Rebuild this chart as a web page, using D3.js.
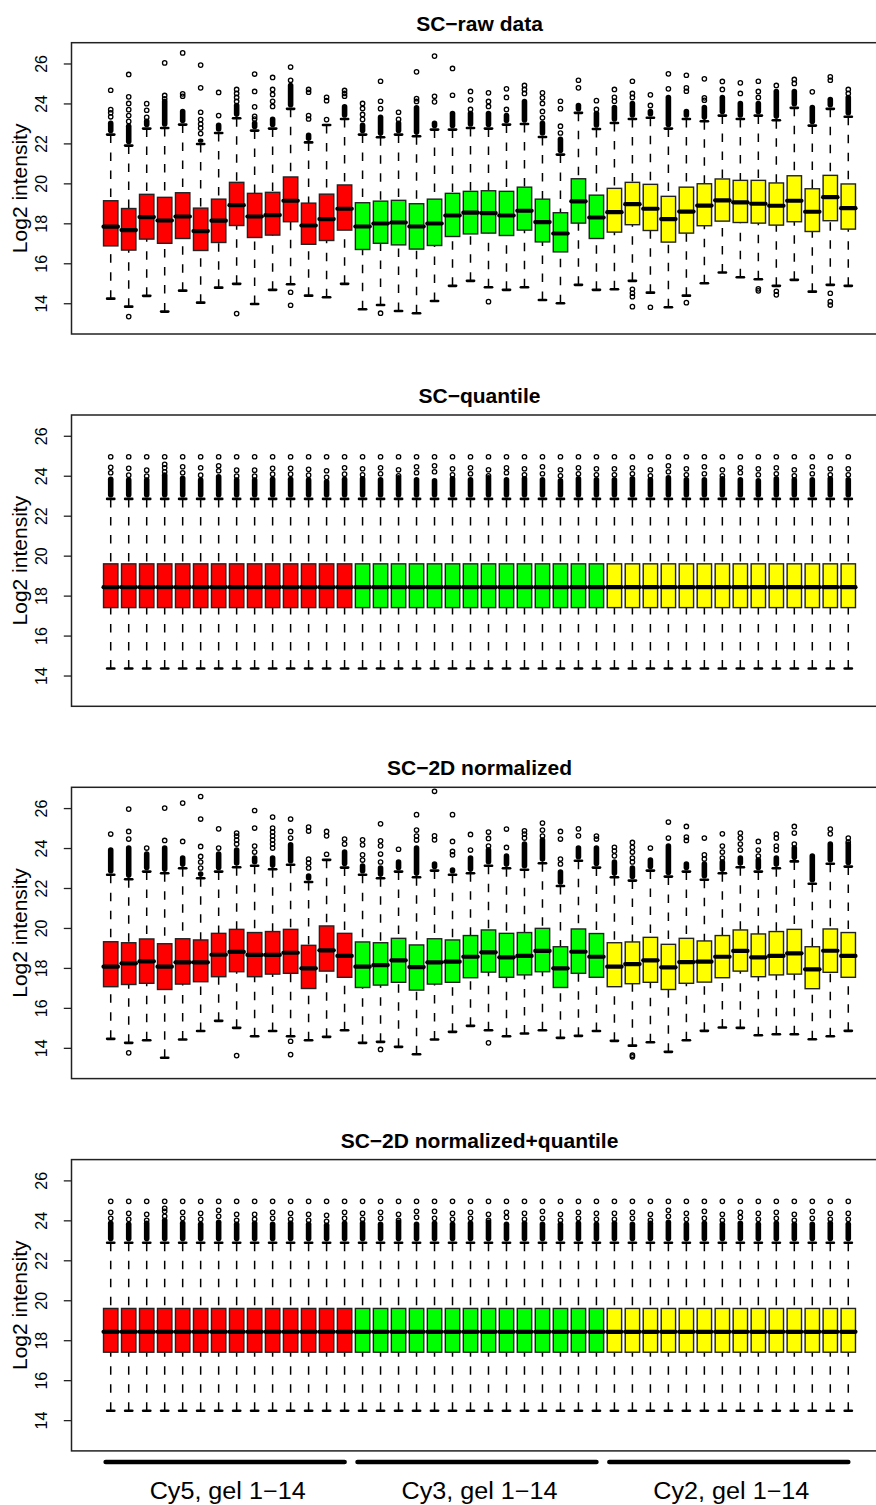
<!DOCTYPE html>
<html><head><meta charset="utf-8">
<script src="https://cdn.jsdelivr.net/npm/d3@7"></script>
<style>body{margin:0;background:#fff}svg{display:block}</style>
</head><body>
<script>
// ---------------- data ----------------
const panelTitles = ["SC\u2212raw data", "SC\u2212quantile", "SC\u22122D normalized", "SC\u22122D normalized+quantile"];
const groupLabels = ["Cy5, gel 1\u221214", "Cy3, gel 1\u221214", "Cy2, gel 1\u221214"];
const groupColors = ["#FF0000", "#00FF00", "#FFFF00"];
const yTicks = [14, 16, 18, 20, 22, 24, 26];
const yLabel = "Log2 intensity";

// Panel 1: SC-raw data
const rawLow  = [14.23,13.83,14.37,13.58,14.63,14.03,14.78,14.97,13.96,14.67,14.95,14.38,14.30,14.97, 13.70,13.91,13.61,13.50,14.11,14.87,15.12,14.80,14.67,14.80,14.16,14.00,14.92,14.67, 14.70,15.12,14.53,13.80,14.38,15.00,15.54,15.30,15.20,14.87,15.17,14.58,14.92,14.87];
const rawQ1   = [16.87,16.66,17.21,17.00,17.24,16.64,17.04,17.89,17.29,17.41,18.08,16.95,17.14,17.66, 16.69,17.00,16.92,16.71,16.89,17.34,17.47,17.51,17.39,17.66,17.07,16.57,18.01,17.24, 17.56,17.93,17.64,17.06,17.51,17.88,18.11,18.04,18.01,17.91,18.08,17.59,18.13,17.71];
const rawMed  = [17.83,17.66,18.31,18.14,18.34,17.61,18.13,18.91,18.34,18.41,19.13,17.89,18.21,18.73, 17.84,17.99,18.04,17.84,17.99,18.39,18.53,18.51,18.39,18.63,18.06,17.49,19.10,18.29, 18.56,18.96,18.73,18.21,18.59,18.89,19.15,19.05,18.98,18.88,19.13,18.58,19.31,18.76];
const rawQ3   = [19.13,18.74,19.45,19.30,19.53,18.76,19.21,20.05,19.50,19.55,20.32,19.01,19.46,19.92, 19.03,19.11,19.15,18.98,19.21,19.50,19.60,19.63,19.60,19.81,19.21,18.53,20.23,19.41, 19.75,20.05,19.95,19.35,19.81,19.98,20.22,20.15,20.15,20.02,20.38,19.73,20.40,19.97];
const rawHigh = [22.44,21.89,22.74,22.77,22.94,21.97,22.52,23.26,22.64,22.74,23.73,22.05,22.92,23.22, 22.44,22.31,22.44,22.36,22.69,22.69,22.77,22.74,22.94,22.97,22.32,21.44,23.53,22.72, 23.02,23.22,23.28,22.74,23.22,23.11,23.39,23.22,23.39,23.16,23.78,22.89,23.73,23.33];
const rawDense= [23.00,22.86,23.10,24.10,23.60,22.10,22.90,23.90,23.00,23.20,24.90,22.40,22.92,23.83, 22.90,23.30,23.00,23.78,23.00,23.50,23.50,23.50,23.40,24.10,23.00,22.20,23.90,23.50, 23.80,24.00,23.60,24.30,23.60,23.80,24.30,24.00,24.00,24.60,24.60,23.80,24.20,24.30];
const rawOutHi = [
  [23.33,23.53,23.69,24.66],[23.10,23.39,23.69,24.00,24.33,25.45],[23.30,23.66,23.99],[24.23,24.40,26.03],[24.36,24.48,26.53],
  [22.49,22.77,22.97,23.19,23.56,24.78,25.92],[23.39,24.55],[24.10,24.30,24.50,24.70],[23.22,23.35,23.83,24.60,25.47],[23.85,24.11,24.45,24.70,25.30],
  [25.16,25.82],[23.22,23.39,24.56,24.70],[23.19,24.14,24.31],[24.36,24.50,24.65],
  [23.20,23.45,23.75,24.00],[23.74,24.11,25.11],[23.20,23.56],[24.10,24.24,25.58],[24.08,24.36,26.37],
  [24.41,25.75],[23.70,24.18,24.60],[23.85,24.10,24.53],[23.70,24.30,24.73],[24.50,24.70,24.90],
  [23.28,23.60,24.00,24.28,24.53],[22.52,22.86,23.74,24.11],[24.78,25.16],[23.70,24.14],
  [24.11,24.31,24.70],[24.30,24.50,25.11],[23.90,24.43],[24.73,25.48],[24.61,24.78,25.41],
  [24.16,24.28,25.23],[24.70,25.10],[24.50,25.03],[24.30,24.60,25.11],[24.90],
  [25.00,25.20],[24.58],[25.16,25.33],[24.50,24.70]
];
const rawOutLo = [
  [],[13.33],[],[],[],[],[],[13.48],[],[],[14.55,13.90],[],[],[],
  [],[13.50],[],[],[],[],[],[14.08],[],[],[],[],[],[],
  [],[14.70,14.50,14.33,13.83],[13.80],[],[14.03],[],[],[],[14.72,14.62],[14.60,14.42],[],[],[14.50,14.08,13.91],[]
];

// Panel 2: SC-quantile
const quLow  = [14.35,14.35,14.35,14.35,14.35,14.35,14.35,14.35,14.35,14.35,14.35,14.35,14.35,14.35, 14.35,14.35,14.35,14.35,14.35,14.35,14.35,14.35,14.35,14.35,14.35,14.35,14.35,14.35, 14.35,14.35,14.35,14.35,14.35,14.35,14.35,14.35,14.35,14.35,14.35,14.35,14.35,14.35];
const quQ1   = [17.40,17.40,17.40,17.40,17.40,17.40,17.40,17.40,17.40,17.40,17.40,17.40,17.40,17.40, 17.40,17.40,17.40,17.40,17.40,17.40,17.40,17.40,17.40,17.40,17.40,17.40,17.40,17.40, 17.40,17.40,17.40,17.40,17.40,17.40,17.40,17.40,17.40,17.40,17.40,17.40,17.40,17.40];
const quMed  = [18.42,18.42,18.42,18.42,18.42,18.42,18.42,18.42,18.42,18.42,18.42,18.42,18.42,18.42, 18.42,18.42,18.42,18.42,18.42,18.42,18.42,18.42,18.42,18.42,18.42,18.42,18.42,18.42, 18.42,18.42,18.42,18.42,18.42,18.42,18.42,18.42,18.42,18.42,18.42,18.42,18.42,18.42];
const quQ3   = [19.59,19.59,19.59,19.59,19.59,19.59,19.59,19.59,19.59,19.59,19.59,19.59,19.59,19.59, 19.59,19.59,19.59,19.59,19.59,19.59,19.59,19.59,19.59,19.59,19.59,19.59,19.59,19.59, 19.59,19.59,19.59,19.59,19.59,19.59,19.59,19.59,19.59,19.59,19.59,19.59,19.59,19.59];
const quHigh = [22.84,22.84,22.84,22.84,22.84,22.84,22.84,22.84,22.84,22.84,22.84,22.84,22.84,22.84, 22.84,22.84,22.84,22.84,22.84,22.84,22.84,22.84,22.84,22.84,22.84,22.84,22.84,22.84, 22.84,22.84,22.84,22.84,22.84,22.84,22.84,22.84,22.84,22.84,22.84,22.84,22.84,22.84];
const quDense= [23.82,23.79,23.79,24.03,23.87,23.79,23.95,23.79,23.79,23.82,23.82,23.79,23.70,23.82, 23.85,23.80,23.90,23.80,23.75,23.85,23.80,23.90,23.80,23.85,23.80,23.75,23.85,23.80, 23.80,23.85,23.80,23.90,23.80,23.80,23.85,23.80,23.75,23.85,23.80,23.80,23.85,23.80];
const quOutHi = [
  [24.15,24.42,24.95],[24.03,24.37,24.95],[23.98,24.28,24.95],[24.20,24.40,24.57,24.95],[24.15,24.45,24.95],
  [24.03,24.40,24.95],[24.25,24.50,24.95],[23.98,24.28,24.95],[23.98,24.28,24.95],[24.08,24.37,24.95],
  [24.08,24.37,24.95],[24.03,24.32,24.95],[23.92,24.25,24.95],[24.08,24.40,24.95],
  [24.05,24.35,24.95],[24.10,24.40,24.95],[24.00,24.30,24.95],[24.15,24.45,24.95],[24.20,24.50,24.95],
  [24.05,24.35,24.95],[24.10,24.40,24.95],[24.00,24.30,24.95],[24.15,24.40,24.95],[24.05,24.35,24.95],
  [24.10,24.45,24.95],[24.00,24.30,24.95],[24.10,24.40,24.95],[24.05,24.35,24.95],
  [24.05,24.35,24.95],[24.10,24.40,24.95],[24.00,24.30,24.95],[24.20,24.50,24.95],[24.05,24.35,24.95],
  [24.10,24.45,24.95],[24.00,24.30,24.95],[24.15,24.40,24.95],[24.05,24.35,24.95],[24.10,24.40,24.95],
  [24.00,24.30,24.95],[24.10,24.45,24.95],[24.05,24.35,24.95],[24.05,24.35,24.95]
];
const quOutLo = [[],[],[],[],[],[],[],[],[],[],[],[],[],[], [],[],[],[],[],[],[],[],[],[],[],[],[],[], [],[],[],[],[],[],[],[],[],[],[],[],[],[]];

// Panel 3: SC-2D normalized
const n2Low  = [14.45,14.25,14.38,13.50,14.42,14.84,15.35,15.00,14.58,14.84,14.58,14.38,14.55,14.88, 14.25,14.30,14.05,13.68,14.42,14.80,15.10,14.88,14.58,14.72,14.88,14.50,14.60,14.84, 14.35,14.11,14.28,13.80,14.38,14.85,15.02,15.00,14.63,14.68,14.68,14.43,14.58,14.85];
const n2Q1   = [17.06,17.17,17.23,16.92,17.19,17.31,17.56,17.81,17.56,17.69,17.73,16.97,17.84,17.53, 17.02,17.14,17.28,16.89,17.19,17.28,17.51,17.79,17.53,17.65,17.81,17.02,17.73,17.53, 17.06,17.21,17.28,16.92,17.23,17.29,17.51,17.84,17.56,17.65,17.69,16.96,17.78,17.53];
const n2Med  = [18.06,18.23,18.33,18.06,18.28,18.28,18.66,18.80,18.65,18.65,18.76,17.98,18.88,18.60, 18.06,18.14,18.38,18.04,18.28,18.31,18.56,18.78,18.53,18.60,18.85,17.98,18.81,18.56, 18.06,18.19,18.38,18.03,18.29,18.31,18.56,18.85,18.53,18.60,18.73,17.93,18.86,18.60];
const n2Q3   = [19.31,19.26,19.45,19.21,19.46,19.40,19.73,19.93,19.77,19.82,19.93,19.13,20.10,19.73, 19.30,19.26,19.48,19.15,19.46,19.40,19.62,19.90,19.73,19.77,19.98,19.06,19.95,19.72, 19.26,19.30,19.53,19.18,19.48,19.35,19.62,19.90,19.70,19.82,19.93,19.06,19.95,19.77];
const n2High = [22.66,22.44,22.82,22.74,22.99,22.49,22.82,23.04,23.11,22.94,23.16,22.30,23.41,23.02, 22.66,22.49,22.82,22.54,22.87,22.66,22.74,23.11,22.99,22.91,23.24,22.10,23.36,23.02, 22.54,22.37,22.87,22.57,22.82,22.41,22.74,23.04,22.82,22.99,23.33,22.21,23.21,23.07];
const n2Dense= [23.90,24.00,23.70,24.00,23.50,22.70,23.70,23.90,23.50,23.50,24.16,22.60,23.41,23.80, 23.10,23.00,23.30,24.00,23.20,22.90,23.50,23.90,23.60,24.20,24.40,22.80,24.00,24.00, 23.30,23.00,23.40,24.10,23.20,23.20,23.30,23.50,23.40,23.50,24.00,23.60,24.20,24.20];
const n2OutHi = [
  [24.70],[24.45,24.83,25.95],[24.00],[24.38,26.00],[24.33,26.25],
  [23.00,23.30,23.58,24.08,25.45,26.58],[24.00,24.96],[24.20,24.40,24.60,24.75],[23.80,24.10,25.00,25.88],[24.00,24.20,24.40,24.60,24.80,25.00,25.55],
  [24.50,24.83,25.45],[23.00,23.25,23.45,24.85,25.05],[23.69,24.61,24.83],[24.20,24.45],
  [23.40,23.66,24.16,24.41],[23.30,23.70,24.11,24.36,25.21],[23.94],[24.40,24.60,24.90,25.67],[24.41,24.61,26.84],
  [23.66,23.83,24.33,25.67],[23.90,24.68],[24.10,24.48,24.80],[24.03,24.95],[24.50,24.70,24.86],
  [24.60,24.90,25.25],[23.20,23.45,24.45,24.83],[24.61,24.96],[24.45,24.60],
  [23.61,23.85,24.04],[23.30,23.50,23.80,24.04,24.28],[24.00],[24.50,25.30],[24.38,24.55,25.08],
  [23.45,23.66,24.50],[23.50,23.80,24.10,24.71],[23.90,24.20,24.50,24.75],[23.60,23.90,24.33],[23.90,24.10,24.50,24.70],
  [24.20,24.75,25.08],[],[24.71,24.95],[24.30,24.50]
];
const n2OutLo = [
  [],[13.75],[],[],[],[],[],[13.61],[],[],[14.33,13.66],[],[],[],
  [],[13.92],[],[],[],[],[],[14.25],[],[],[],[],[],[],
  [],[13.63,13.55],[],[],[],[],[],[],[],[],[],[],[],[]
];

// Panel 4: SC-2D normalized+quantile
const nqLow  = [14.47,14.47,14.47,14.47,14.47,14.47,14.47,14.47,14.47,14.47,14.47,14.47,14.47,14.47, 14.47,14.47,14.47,14.47,14.47,14.47,14.47,14.47,14.47,14.47,14.47,14.47,14.47,14.47, 14.47,14.47,14.47,14.47,14.47,14.47,14.47,14.47,14.47,14.47,14.47,14.47,14.47,14.47];
const nqQ1   = [17.40,17.40,17.40,17.40,17.40,17.40,17.40,17.40,17.40,17.40,17.40,17.40,17.40,17.40, 17.40,17.40,17.40,17.40,17.40,17.40,17.40,17.40,17.40,17.40,17.40,17.40,17.40,17.40, 17.40,17.40,17.40,17.40,17.40,17.40,17.40,17.40,17.40,17.40,17.40,17.40,17.40,17.40];
const nqMed  = [18.42,18.42,18.42,18.42,18.42,18.42,18.42,18.42,18.42,18.42,18.42,18.42,18.42,18.42, 18.42,18.42,18.42,18.42,18.42,18.42,18.42,18.42,18.42,18.42,18.42,18.42,18.42,18.42, 18.42,18.42,18.42,18.42,18.42,18.42,18.42,18.42,18.42,18.42,18.42,18.42,18.42,18.42];
const nqQ3   = [19.59,19.59,19.59,19.59,19.59,19.59,19.59,19.59,19.59,19.59,19.59,19.59,19.59,19.59, 19.59,19.59,19.59,19.59,19.59,19.59,19.59,19.59,19.59,19.59,19.59,19.59,19.59,19.59, 19.59,19.59,19.59,19.59,19.59,19.59,19.59,19.59,19.59,19.59,19.59,19.59,19.59,19.59];
const nqHigh = [22.88,22.88,22.88,22.88,22.88,22.88,22.88,22.88,22.88,22.88,22.88,22.88,22.88,22.88, 22.88,22.88,22.88,22.88,22.88,22.88,22.88,22.88,22.88,22.88,22.88,22.88,22.88,22.88, 22.88,22.88,22.88,22.88,22.88,22.88,22.88,22.88,22.88,22.88,22.88,22.88,22.88,22.88];
const nqDense= [23.85,23.80,23.85,24.00,23.85,23.80,23.90,23.80,23.85,23.80,23.85,23.80,23.75,23.85, 23.85,23.80,23.90,23.80,23.85,23.80,23.85,23.90,23.80,23.85,23.80,23.80,23.85,23.80, 23.85,23.80,23.85,23.90,23.80,23.85,23.80,23.85,23.80,23.85,23.80,23.80,23.85,23.80];
const nqOutHi = [
  [24.10,24.40,24.95],[24.05,24.35,24.95],[24.00,24.30,24.95],[24.20,24.45,24.60,24.95],[24.10,24.40,24.95],
  [24.05,24.35,24.95],[24.20,24.50,24.95],[24.00,24.30,24.95],[24.05,24.30,24.95],[24.10,24.40,24.95],
  [24.05,24.35,24.95],[24.00,24.30,24.95],[23.95,24.25,24.95],[24.10,24.40,24.95],
  [24.05,24.35,24.95],[24.10,24.40,24.95],[24.00,24.30,24.95],[24.15,24.45,24.95],[24.10,24.45,24.95],
  [24.05,24.35,24.95],[24.10,24.40,24.95],[24.00,24.30,24.95],[24.15,24.40,24.95],[24.05,24.35,24.95],
  [24.10,24.45,24.95],[24.00,24.30,24.95],[24.10,24.40,24.95],[24.05,24.35,24.95],
  [24.05,24.35,24.95],[24.10,24.40,24.95],[24.00,24.30,24.95],[24.20,24.50,24.95],[24.05,24.35,24.95],
  [24.10,24.45,24.95],[24.00,24.30,24.95],[24.15,24.40,24.95],[24.05,24.35,24.95],[24.10,24.40,24.95],
  [24.00,24.30,24.95],[24.10,24.45,24.95],[24.05,24.35,24.95],[24.05,24.35,24.95]
];
const nqOutLo = [[],[],[],[],[],[],[],[],[],[],[],[],[],[], [],[],[],[],[],[],[],[],[],[],[],[],[],[], [],[],[],[],[],[],[],[],[],[],[],[],[],[]];

// ---------------- layout ----------------
const W = 876, H = 1505;
const FONT = "'Liberation Sans', Arial, Helvetica, sans-serif";
const panels = [
  {title: panelTitles[0], low: rawLow, q1: rawQ1, med: rawMed, q3: rawQ3, high: rawHigh, dense: rawDense, outHi: rawOutHi, outLo: rawOutLo},
  {title: panelTitles[1], low: quLow, q1: quQ1, med: quMed, q3: quQ3, high: quHigh, dense: quDense, outHi: quOutHi, outLo: quOutLo},
  {title: panelTitles[2], low: n2Low, q1: n2Q1, med: n2Med, q3: n2Q3, high: n2High, dense: n2Dense, outHi: n2OutHi, outLo: n2OutLo},
  {title: panelTitles[3], low: nqLow, q1: nqQ1, med: nqMed, q3: nqQ3, high: nqHigh, dense: nqDense, outHi: nqOutHi, outLo: nqOutLo}
];
const top0 = 42.7, step = 372.3, ph = 291.3;
const plotLeft = 71.5, plotRight = 887.5;
const n = 42;
const x = d3.scaleLinear().domain([0.5 - 0.04 * n, n + 0.5 + 0.04 * n]).range([plotLeft, plotRight]);
const boxHalf = (x(0.4) - x(0));
const stapHalf = (x(0.2) - x(0));

const svg = d3.select("body").append("svg").attr("width", W).attr("height", H)
  .style("font-family", FONT);
svg.append("rect").attr("width", W).attr("height", H).attr("fill", "#fff");

panels.forEach((p, pi) => {
  const top = top0 + pi * step;
  const y = d3.scaleLinear().domain([13 - 0.04 * 13.5, 26.5 + 0.04 * 13.5]).range([top + ph, top]);
  const g = svg.append("g");
  const idx = d3.range(n);

  g.selectAll("path.wu").data(idx).join("path")
    .attr("d", i => `M${x(i + 1)},${y(p.high[i])}L${x(i + 1)},${y(p.q3[i])}`)
    .attr("stroke", "#000").attr("stroke-width", 1.5).attr("stroke-dasharray", "8.5,9.5").attr("fill", "none");
  g.selectAll("path.wl").data(idx).join("path")
    .attr("d", i => `M${x(i + 1)},${y(p.low[i])}L${x(i + 1)},${y(p.q1[i])}`)
    .attr("stroke", "#000").attr("stroke-width", 1.5).attr("stroke-dasharray", "8.5,9.5").attr("fill", "none");
  ["high", "low"].forEach(k => {
    g.selectAll("line.s" + k).data(idx).join("line")
      .attr("x1", i => x(i + 1) - stapHalf).attr("x2", i => x(i + 1) + stapHalf)
      .attr("y1", i => y(p[k][i])).attr("y2", i => y(p[k][i]))
      .attr("stroke", "#000").attr("stroke-width", 2.6).attr("stroke-linecap", "round");
  });
  g.selectAll("rect.box").data(idx).join("rect")
    .attr("x", i => x(i + 1) - boxHalf).attr("width", boxHalf * 2)
    .attr("y", i => y(p.q3[i])).attr("height", i => y(p.q1[i]) - y(p.q3[i]))
    .attr("fill", i => groupColors[Math.floor(i / 14)])
    .attr("stroke", "#222").attr("stroke-width", 1.4);
  g.selectAll("line.med").data(idx).join("line")
    .attr("x1", i => x(i + 1) - boxHalf).attr("x2", i => x(i + 1) + boxHalf)
    .attr("y1", i => y(p.med[i])).attr("y2", i => y(p.med[i]))
    .attr("stroke", "#000").attr("stroke-width", 4.2).attr("stroke-linecap", "round");
  g.selectAll("rect.dense").data(idx.filter(i => p.dense[i] > p.high[i] + 0.05)).join("rect")
    .attr("x", i => x(i + 1) - 2.8).attr("width", 5.6)
    .attr("y", i => y(p.dense[i]) - 2.8).attr("height", i => y(p.high[i]) - y(p.dense[i]) + 1.5)
    .attr("rx", 2.8).attr("fill", "#000");
  const pts = [];
  idx.forEach(i => {
    p.outHi[i].forEach(v => pts.push([i + 1, v]));
    p.outLo[i].forEach(v => pts.push([i + 1, v]));
  });
  g.selectAll("circle").data(pts).join("circle")
    .attr("cx", d => x(d[0])).attr("cy", d => y(d[1])).attr("r", 2.2)
    .attr("fill", "none").attr("stroke", "#000").attr("stroke-width", 1.3);

  g.append("rect").attr("x", plotLeft).attr("y", top).attr("width", plotRight - plotLeft).attr("height", ph)
    .attr("fill", "none").attr("stroke", "#222").attr("stroke-width", 1.5);

  const ax = g.append("g").attr("transform", `translate(${plotLeft},0)`)
    .call(d3.axisLeft(y).tickValues(yTicks).tickSize(7.7).tickFormat(d3.format("d")));
  ax.select(".domain").remove();
  ax.selectAll(".tick line").attr("stroke", "#222").attr("stroke-width", 1.3);
  ax.selectAll(".tick text")
    .attr("x", null).attr("dy", null).attr("y", 0)
    .attr("text-anchor", "middle")
    .attr("transform", "translate(-24.8,0) rotate(-90)")
    .style("font-size", "16px").style("font-family", FONT).attr("fill", "#000");

  g.append("text").attr("transform", `translate(26.5,${top + ph / 2}) rotate(-90)`)
    .attr("text-anchor", "middle").style("font-size", "21px").text(yLabel);

  g.append("text").attr("x", (plotLeft + plotRight) / 2).attr("y", top - 12)
    .attr("text-anchor", "middle").style("font-size", "21px").style("font-weight", "bold").text(p.title);
});

const gy = 1462;
groupLabels.forEach((lab, k) => {
  const s = k * 14 + 1, e = k * 14 + 14;
  svg.append("line").attr("x1", x(s - 0.28)).attr("x2", x(e)).attr("y1", gy).attr("y2", gy)
    .attr("stroke", "#000").attr("stroke-width", 4.6).attr("stroke-linecap", "round");
  svg.append("text").attr("x", x((s + e) / 2)).attr("y", 1499)
    .attr("text-anchor", "middle").style("font-size", "23px")
    .attr("textLength", 156).attr("lengthAdjust", "spacingAndGlyphs").text(lab);
});
</script>
</body></html>
